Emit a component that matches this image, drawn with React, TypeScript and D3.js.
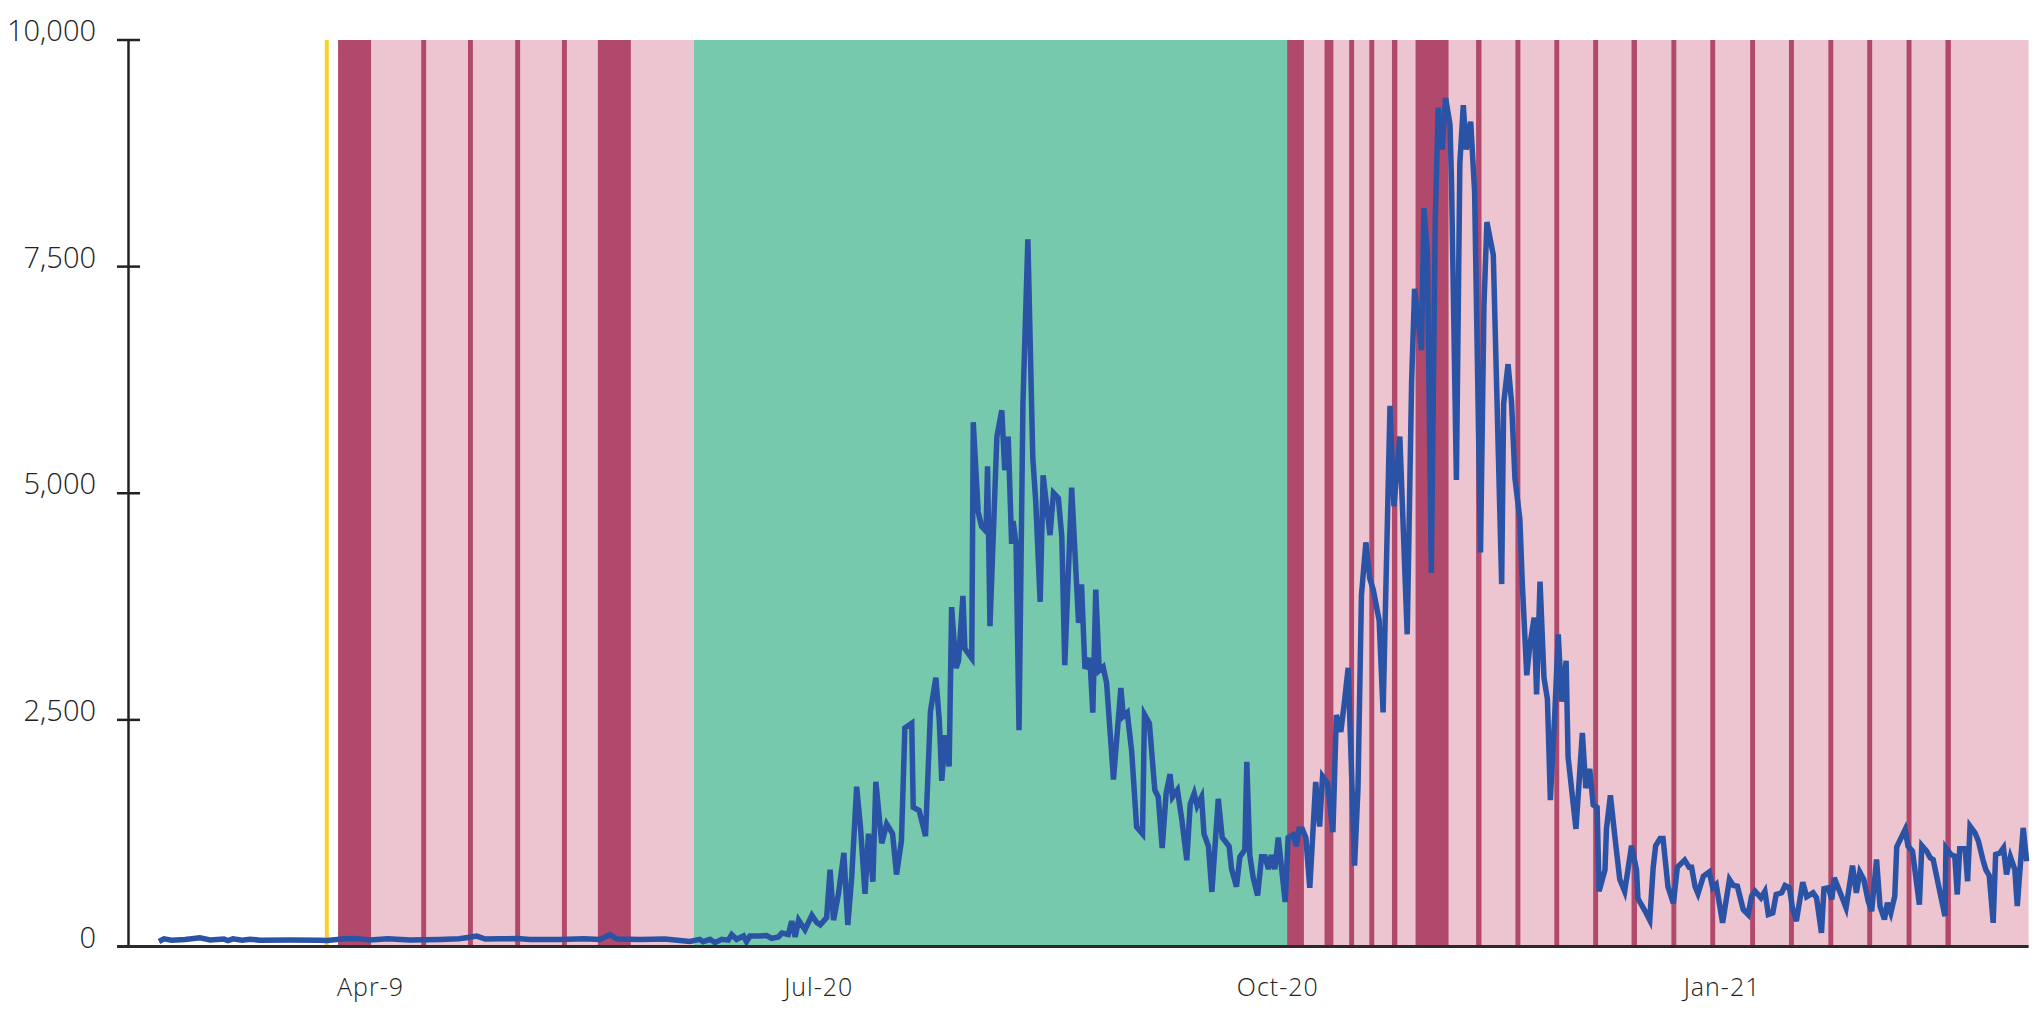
import * as d3 from 'd3'

// daily new cases (x = days since series start)
const days = [
  0, 1, 2.6, 5.3, 8.3, 10.4, 13.2, 14, 15, 16.9, 18.5, 20.5, 26.6, 32.7, 34.1, 37.8, 39.8, 42.9,
  46.5, 51, 57.1, 61, 62.8, 64.6, 66.3, 69.3, 72.8, 75.4, 81.5, 86.4, 89.6, 91.7, 93.1, 97.8, 102.8,
  107.9, 109.9, 110.6, 112, 113, 114.4, 115.7, 116.4, 117.4, 118.8, 119.4, 120.1, 122.2, 123.5,
  124.5, 125.9, 126.6, 127.9, 128.6, 129.3, 130, 131.3, 132.7, 133.7, 134.4, 135.7, 136.4, 137.1,
  138.1, 139.2, 140, 140.8, 141.8, 142.6, 143.5, 144.2, 145.1, 145.7, 146.9, 147.9, 149.1, 149.9,
  150.9, 151.6, 153, 153.3, 154.5, 155.8, 156.8, 157.9, 158.6, 159.1, 159.8, 160.6, 161.1, 162,
  162.5, 163.4, 163.8, 165.2, 165.5, 166.5, 167.2, 168.1, 168.4, 168.9,
  170.3, 171.3, 171.9, 172.6, 173.3, 173.6, 174.2, 174.8, 175.6, 176.6, 177.6, 178.2, 179.1, 179.7,
  181.1, 181.8, 182.8, 183.5, 184.1, 185.5, 186.9, 187.5, 188.2, 189.2, 189.8, 190.4, 191.1, 191.9,
  192.6, 194, 195.5, 196, 196.8, 197.7, 198.7, 199.9, 200.3, 201.3, 202.4, 203.1, 203.9, 204.7,
  205.5, 206, 207, 207.9, 208.9, 209.6, 210.4, 211, 211.9, 212.4, 213.3, 214, 215.3, 216.1, 217.5,
  218, 219, 219.7, 220.7, 221.1, 221.7, 222.4, 223.3, 224.1, 224.8, 225.5, 226.1, 226.8, 227.5, 228.9,
  229.5, 230.5, 231.2, 231.7, 232.4, 233.1, 233.9, 235.1, 235.9, 236.5, 237.5, 238.6, 239.3, 240.2,
  240.9, 241.7, 243, 243.7, 244.4, 245.3, 246.1, 246.8, 248, 248.8, 250.2, 251, 252.2, 253.7, 254.6,
  255.2, 256.6, 257.1, 257.8, 258.6, 259.4, 260, 260.8, 261.5, 262.4, 262.7, 263.7, 264.4, 265.1,
  265.7, 266.6, 267.4, 268.6, 269.3, 269.9,
  271.2, 272.9, 273.3, 274.2, 274.9, 275.6, 276.6, 277.1, 278, 278.6, 279.5, 280, 280.7, 281.5,
  282.2, 282.8, 283.7, 284.4, 285.1, 286, 286.4, 288, 289.3, 290, 290.8, 291.5, 292.3, 292.7, 293.9,
  294.2, 295, 295.9, 296.9, 297.9, 299.3, 300.3, 300.6, 302, 303, 303.7, 304.2, 305.1, 305.7, 306.7,
  307.8, 308.6, 310.1, 311, 311.5, 312.2, 312.8,
  313.9, 315.1, 315.8, 316.5, 317.8, 319.2, 320, 320.8, 322, 323, 323.7, 324.4, 325.6, 326.4, 327.1,
  328, 328.7, 329.8, 330.5, 331.4, 332, 332.8, 334.1, 334.9, 336.2, 336.9, 337.9, 338.4, 339.3, 340,
  340.5, 342, 342.9, 344.2, 345, 345.7, 346.5, 347.4, 348.1, 349.1, 349.8, 350.7, 351.3, 352, 352.8,
  353.2, 354.9, 355.5, 356.4, 357.8, 358.3, 359.3, 360, 360.6, 361.8, 363, 363.2, 364.2, 365, 365.5,
  366, 367.1, 367.6, 368.1, 369.1, 369.8, 370.7, 371.3, 372, 372.8, 373.3, 374.2, 374.9, 375.5,
  376.3, 377.2, 377.7, 378.2, 378.9, 379.6,
]

const cases = [
  55, 85, 70, 78, 95, 72, 82, 65, 85, 70, 80, 70, 72, 68, 65, 85, 88, 72,
  85, 72, 78, 85, 100, 115, 82, 85, 88, 78, 78, 85, 78, 130, 82, 78, 82,
  55, 79, 53, 79, 42, 79, 70, 132, 79, 116, 53, 116, 116, 121,
  89, 106, 148, 132, 280, 106, 291, 185, 344, 265, 238, 318, 847, 291,
  582, 1033, 238, 767, 1763, 1298, 582, 1245, 714, 1817, 1139, 1351, 1245, 794,
  1165, 2410, 2463, 1536, 1499, 1218, 2595, 2966, 2490, 1827, 2331, 1986, 3744, 3072,
  3151, 3867, 3283, 3178, 5784, 4793, 4634, 4581, 5297, 3533,
  5624, 5915, 5255, 5624, 4441, 4693, 4441, 2386, 6000, 7800, 5391, 4906, 3801, 5197,
  4538, 5003, 4945, 4519, 3103, 5061, 3569, 3995, 3064, 3181, 2580, 3937, 3045, 3084,
  2909, 1843, 2851, 2541, 2580, 2153, 1319, 1242, 2560, 2463, 1726, 1649, 1087, 1688,
  1901, 1649, 1726, 1397, 951, 1571, 1688, 1552, 1649, 1242, 1106, 602, 1629, 1203, 1106,
  854, 660, 990, 1067, 2037, 1009, 757, 563, 990, 990, 854, 1009, 854, 1203, 490,
  1200, 1231, 1108, 1293, 1293, 1200, 647, 1815, 1323, 1877, 1803, 1262, 2553, 2368,
  2676, 3075, 893, 1753, 3874, 4458, 4058, 3935, 3597, 2583, 5964, 4857, 5625, 3444, 6240,
  7254, 6578, 8145, 7654, 4120, 8022, 9252, 8791, 9362, 9067, 8453, 5146, 8637, 9282,
  8791, 9098, 8330, 4347, 7070, 7992,
  7627, 3998, 5985, 6424, 6011, 5164, 4713, 3998, 2992, 3310, 3628, 2780, 4025, 2965,
  2727, 1615, 2568, 3442, 2701, 3151, 2091, 1297, 2356, 1747, 1959, 1562, 1535, 608, 846,
  1297, 1668, 1217, 741, 608, 1112, 846, 529, 396, 291, 873, 1112, 1191, 1191, 661,
  476, 873, 953, 873, 873, 661, 582,
  776, 823, 647, 684, 261, 739, 673, 665, 408, 353, 555, 610, 537, 610, 353,
  371, 574, 592, 673, 647, 427, 280, 710, 548, 592, 537, 150, 636, 647, 518,
  757, 555, 427, 893, 592, 820, 739, 500, 390, 960, 445, 298, 482, 371, 555,
  1099, 1290, 1107, 1051, 463, 1114, 1051, 978, 960, 647, 335, 1088, 1015, 996, 574,
  1077, 1077, 720, 1327, 1254, 1162, 960, 849, 783, 261, 1015, 1033, 1088, 794,
  989, 849, 445, 813, 1309, 941,
]

const yTicks = [0, 2500, 5000, 7500, 10000]
const tickDays = [43, 134.1, 227.4, 317.7]
const tickLabels = ['Apr-9', 'Jul-20', 'Oct-20', 'Jan-21']

// first measure (yellow line), restriction phases and strict lockdown days
const firstMeasureDay = 34.1
const pinkPhases = [[36.4, 108.7], [229.3, 380]]
const greenPhases = [[108.7, 229.3]]
const strictBands = [
  [36.4, 43.1], [53.3, 54.3], [62.8, 63.8], [72.4, 73.4], [81.9, 82.9], [89.2, 95.9],
  [229.3, 232.7], [236.9, 238.7], [241.9, 242.9], [246, 247], [250.6, 251.7], [255.4, 262.1],
  [267.7, 268.8], [275.7, 276.7], [283.6, 284.6], [291.5, 292.5], [299.3, 300.4], [307.4, 308.4],
  [315.3, 316.3], [323.4, 324.4], [331.3, 332.3], [339.3, 340.3], [347.2, 348.2], [355.2, 356.2],
  [363.1, 364.2],
]

export default function App() {
  const width = 2042
  const height = 1010
  const axisX = 128.5
  const top = 40
  const bottom = 946.5

  const x = d3.scaleLinear().domain([0, 380]).range([159, 2028.6])
  const y = d3.scaleLinear().domain([0, 10000]).range([bottom, top])

  const line = d3
    .line<number>()
    .x((_, i) => x(days[i]))
    .y((d) => y(d))

  const font = "'Open Sans', 'DejaVu Sans', sans-serif"

  return (
    <svg
      width={width}
      height={height}
      viewBox={`0 0 ${width} ${height}`}
      style={{ position: 'absolute', left: 0, top: 0, display: 'block', background: '#fff' }}
    >
      {pinkPhases.map(([a, b], i) => (
        <rect key={'p' + i} x={x(a)} y={top} width={x(b) - x(a)} height={bottom - top} fill="#ecc5d0" />
      ))}
      {greenPhases.map(([a, b], i) => (
        <rect key={'g' + i} x={x(a)} y={top} width={x(b) - x(a)} height={bottom - top} fill="#77c9ad" />
      ))}
      {strictBands.map(([a, b], i) => (
        <rect key={'s' + i} x={x(a)} y={top} width={x(b) - x(a)} height={bottom - top} fill="#b0496b" />
      ))}
      <line
        x1={x(firstMeasureDay)}
        x2={x(firstMeasureDay)}
        y1={top}
        y2={bottom}
        stroke="#f9cf2b"
        strokeWidth={4}
      />

      <path d={line(cases) || ''} fill="none" stroke="#2a53a5" strokeWidth={5.5} strokeLinejoin="miter" />

      {/* y axis */}
      <line x1={axisX} x2={axisX} y1={top} y2={bottom} stroke="#222" strokeWidth={2.5} />
      {yTicks.map((t) => (
        <g key={t}>
          <line x1={117} x2={140} y1={y(t)} y2={y(t)} stroke="#222" strokeWidth={2.5} />
          <text
            x={96}
            y={y(t) + 1}
            textAnchor="end"
            fontFamily={font}
            fontWeight={300}
            fontSize={29}
            fill="#222"
          >
            {d3.format(',')(t)}
          </text>
        </g>
      ))}

      {/* x axis */}
      <line x1={117} x2={2028.6} y1={bottom} y2={bottom} stroke="#2b2b2b" strokeWidth={3} />
      {tickDays.map((d, i) => (
        <text
          key={d}
          x={x(d)}
          y={996}
          textAnchor="middle"
          fontFamily={font}
          fontWeight={300}
          fontSize={25}
          letterSpacing={1}
          fill="#222"
        >
          {tickLabels[i]}
        </text>
      ))}
    </svg>
  )
}
